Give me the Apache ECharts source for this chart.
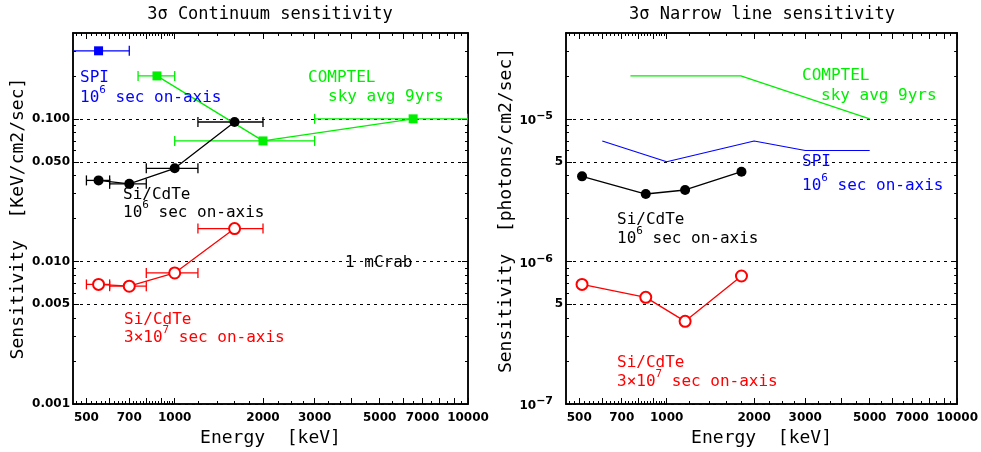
<!DOCTYPE html>
<html><head><meta charset="utf-8">
<script src="https://cdn.jsdelivr.net/npm/echarts@6/dist/echarts.min.js"></script>
<style>html,body{margin:0;padding:0;background:#fff}#c{width:981px;height:452px}</style>
</head><body><div id="c"></div>
<script>
// ---------------- axis ticks / labels ----------------
const energyTickLabels = [500, 700, 1000, 2000, 3000, 5000, 7000, 10000];
const energyMajorTicks = [500, 600, 700, 800, 900, 1000, 2000, 3000, 4000, 5000, 6000, 7000, 8000, 9000, 10000];
const energyMinorTicks = [460, 480, 520, 540, 560, 580, 620, 640, 660, 680, 720, 740, 760, 780, 820, 840, 860, 880, 920, 940, 960, 980,
  1200, 1400, 1600, 1800, 2250, 2500, 2750, 3333, 3667, 4500, 5500, 6500, 7500, 8500, 9500];
const contMajorTicks = [0.001, 0.005, 0.01, 0.05, 0.1];
const contMinorTicks = [0.002, 0.003, 0.004, 0.006, 0.007, 0.008, 0.009, 0.02, 0.03, 0.04, 0.06, 0.07, 0.08, 0.09, 0.2, 0.3];
const lineMajorTicks = [1e-7, 5e-7, 1e-6, 5e-6, 1e-5];
const lineMinorTicks = [2e-7, 3e-7, 4e-7, 6e-7, 7e-7, 8e-7, 9e-7, 2e-6, 3e-6, 4e-6, 6e-6, 7e-6, 8e-6, 9e-6, 2e-5, 3e-5];

// ---------------- continuum sensitivity data ----------------
const contSpiEnergy = [550];
const contSpiSens = [0.30];
const contSpiLow = [430];
const contSpiHigh = [700];

const contComptelEnergy = [870, 2000, 6500];
const contComptelSens = [0.20, 0.070, 0.100];
const contComptelLow = [750, 1000, 3000];
const contComptelHigh = [1000, 3000, 10000];

const contSiEnergy = [550, 700, 1000, 1600];
const contSiLow = [500, 600, 800, 1200];
const contSiHigh = [600, 800, 1200, 2000];
const contSi6Sens = [0.037, 0.035, 0.045, 0.095];
const contSi7Sens = [0.0069, 0.0067, 0.0083, 0.017];

// ---------------- narrow line sensitivity data ----------------
const lineComptelEnergy = [750, 1800, 5000];
const lineComptelSens = [2.0e-5, 2.0e-5, 1.0e-5];
const lineSpiEnergy = [600, 1000, 2000, 3000, 5000];
const lineSpiSens = [7.0e-6, 5.0e-6, 7.0e-6, 6.0e-6, 6.0e-6];
const lineSiEnergy = [511, 847, 1157, 1809];
const lineSi6Sens = [3.95e-6, 2.97e-6, 3.17e-6, 4.26e-6];
const lineSi7Sens = [6.9e-7, 5.6e-7, 3.8e-7, 7.9e-7];

// ---------------- styling ----------------
const BLUE = '#0000ff', GREEN = '#00ee00', RED = '#ff0000', BLACK = '#000000';
const MONO = '"DejaVu Sans Mono", monospace';
const SANS = '"DejaVu Sans", sans-serif';

const chart = echarts.init(document.getElementById('c'), null, {renderer: 'canvas'});

function zip(xs, ys) { return xs.map((x, i) => [x, ys[i]]); }

const tickLabelStyle = {color: BLACK, fontFamily: SANS, fontWeight: 'bold', fontSize: 12};
const axisLineStyle = {show: true, onZero: false, lineStyle: {color: BLACK, width: 1.5}};

function xAxes(g) {
  const base = {type: 'log', logBase: 10, gridIndex: g, min: 450, max: 10000,
    splitLine: {show: false}, axisLine: axisLineStyle};
  const major = {show: true, inside: true, length: 6, customValues: energyMajorTicks, lineStyle: {color: BLACK, width: 1}};
  const minor = {show: true, inside: true, length: 3, customValues: energyMinorTicks, lineStyle: {color: BLACK, width: 1}};
  return [
    Object.assign({}, base, {position: 'bottom', axisTick: major,
      axisLabel: Object.assign({show: true, customValues: energyTickLabels, margin: 8, formatter: v => String(Math.round(v))}, tickLabelStyle),
      name: 'Energy  [keV]', nameLocation: 'middle', nameGap: 24,
      nameTextStyle: {fontFamily: MONO, fontSize: 18, color: BLACK}}),
    Object.assign({}, base, {position: 'bottom', axisTick: minor, axisLabel: {show: false}}),
    Object.assign({}, base, {position: 'top', axisTick: major, axisLabel: {show: false}}),
    Object.assign({}, base, {position: 'top', axisTick: minor, axisLabel: {show: false}})
  ];
}

function yAxes(g, min, max, majors, minors, fmt, name, rich, nameGap, namePad) {
  const base = {type: 'log', logBase: 10, gridIndex: g, min: min, max: max,
    splitLine: {show: false}, axisLine: axisLineStyle};
  const major = {show: true, inside: true, length: 6, customValues: majors, lineStyle: {color: BLACK, width: 1}};
  const minor = {show: true, inside: true, length: 3, customValues: minors, lineStyle: {color: BLACK, width: 1}};
  return [
    Object.assign({}, base, {position: 'left', axisTick: major,
      splitLine: {show: true, customValues: majors, lineStyle: {color: BLACK, width: 1, type: [3, 4]}},
      axisLabel: Object.assign({show: true, customValues: majors, margin: 3, formatter: fmt, rich: rich}, tickLabelStyle),
      name: name, nameLocation: 'middle', nameGap: nameGap,
      nameTextStyle: {fontFamily: MONO, fontSize: 18, color: BLACK, padding: namePad}}),
    Object.assign({}, base, {position: 'left', axisTick: minor, axisLabel: {show: false}}),
    Object.assign({}, base, {position: 'right', axisTick: major, axisLabel: {show: false}}),
    Object.assign({}, base, {position: 'right', axisTick: minor, axisLabel: {show: false}})
  ];
}

const contFmt = v => Number(v).toFixed(3);
const lineFmt = v => {
  const e = Math.floor(Math.log10(v) + 1e-9);
  const m = Math.round(v / Math.pow(10, e));
  if (m === 1) return '{b|10}{s|\u2212' + Math.abs(e) + '}';
  return '{b|' + m + '}';
};
const lineRich = {
  b: {fontFamily: SANS, fontWeight: 'bold', fontSize: 12, color: BLACK, verticalAlign: 'bottom'},
  s: {fontFamily: SANS, fontWeight: 'bold', fontSize: 11, color: BLACK, verticalAlign: 'top', padding: [0, 10, 5, 0]}
};

function errSeries(xi, yi, low, high, sens, color) {
  return {
    type: 'custom', xAxisIndex: xi, yAxisIndex: yi, clip: true, silent: true, z: 2,
    data: low.map((l, i) => [l, high[i], sens[i]]),
    encode: {x: [0, 1], y: 2},
    renderItem: function (params, api) {
      const y = api.value(2);
      const a = api.coord([api.value(0), y]);
      const b = api.coord([api.value(1), y]);
      const st = {stroke: color, lineWidth: 1.3};
      return {type: 'group', children: [
        {type: 'line', shape: {x1: a[0], y1: a[1], x2: b[0], y2: b[1]}, style: st},
        {type: 'line', shape: {x1: a[0], y1: a[1] - 5, x2: a[0], y2: a[1] + 5}, style: st},
        {type: 'line', shape: {x1: b[0], y1: b[1] - 5, x2: b[0], y2: b[1] + 5}, style: st}
      ]};
    }
  };
}

function lineSeries(xi, yi, xs, ys, color, symbol, size, width) {
  return {
    type: 'line', xAxisIndex: xi, yAxisIndex: yi, data: zip(xs, ys),
    symbol: symbol, symbolSize: size, showSymbol: symbol !== 'none', z: 3, silent: true,
    itemStyle: symbol === 'emptyCircle' ? {color: color, borderColor: color, borderWidth: 1.3} : {color: color},
    lineStyle: {color: color, width: width}
  };
}

// annotation helper (rich text, superscripts)
const annStyles = {
  a: {fontFamily: MONO, fontSize: 16, verticalAlign: 'bottom'},
  s: {fontFamily: MONO, fontSize: 11, verticalAlign: 'top', padding: [0, 0, 10, 0]}
};
function ann(x, y, text, color) {
  const rich = {};
  Object.keys(annStyles).forEach(k => { rich[k] = Object.assign({color: color}, annStyles[k]); });
  const hasSup = text.indexOf('{s|') >= 0;
  return {type: 'text', x: x, y: hasSup ? y - 2 : y, silent: true, z: 50,
    style: {text: text, rich: rich, fill: color, fontFamily: MONO, fontSize: 16,
      textAlign: 'left', textVerticalAlign: 'middle'}};
}
function title(x, y, text) {
  return {type: 'text', x: x, y: y, silent: true,
    style: {text: text, fill: BLACK, fontFamily: MONO, fontSize: 17, textAlign: 'center', textVerticalAlign: 'middle'}};
}

const option = {
  animation: false,
  backgroundColor: '#ffffff',
  grid: [
    {left: 73, top: 33, width: 395, height: 371},
    {left: 566, top: 33, width: 394, height: 371}
  ],
  xAxis: [].concat(xAxes(0), xAxes(1)),
  yAxis: [].concat(
    yAxes(0, 0.001, 0.4, contMajorTicks, contMinorTicks, contFmt, 'Sensitivity  [KeV/cm2/sec]', null, 46, 0),
    yAxes(1, 1e-7, 4e-5, lineMajorTicks, lineMinorTicks, lineFmt, 'Sensitivity  [photons/cm2/sec]', lineRich, 45, [0, 0, 0, 16])
  ),
  series: [
    // continuum (grid 0)
    errSeries(0, 0, contSpiLow, contSpiHigh, contSpiSens, BLUE),
    lineSeries(0, 0, contSpiEnergy, contSpiSens, BLUE, 'rect', 9, 1.2),
    errSeries(0, 0, contComptelLow, contComptelHigh, contComptelSens, GREEN),
    lineSeries(0, 0, contComptelEnergy, contComptelSens, GREEN, 'rect', 9, 1.3),
    errSeries(0, 0, contSiLow, contSiHigh, contSi6Sens, BLACK),
    lineSeries(0, 0, contSiEnergy, contSi6Sens, BLACK, 'circle', 10, 1.3),
    errSeries(0, 0, contSiLow, contSiHigh, contSi7Sens, RED),
    lineSeries(0, 0, contSiEnergy, contSi7Sens, RED, 'emptyCircle', 11, 1.3),
    // narrow line (grid 1)
    lineSeries(4, 4, lineComptelEnergy, lineComptelSens, GREEN, 'none', 0, 1.2),
    lineSeries(4, 4, lineSpiEnergy, lineSpiSens, BLUE, 'none', 0, 1.1),
    lineSeries(4, 4, lineSiEnergy, lineSi6Sens, BLACK, 'circle', 10, 1.3),
    lineSeries(4, 4, lineSiEnergy, lineSi7Sens, RED, 'emptyCircle', 11, 1.3)
  ],
  graphic: [
    title(270, 15, '3\u03c3 Continuum sensitivity'),
    title(762, 15, '3\u03c3 Narrow line sensitivity'),
    ann(80, 78, '{a|SPI}', BLUE),
    ann(80, 97, '{a|10}{s|6}{a| sec on-axis}', BLUE),
    ann(308, 78, '{a|COMPTEL}', GREEN),
    ann(328, 97, '{a|sky avg 9yrs}', GREEN),
    ann(123, 195, '{a|Si/CdTe}', BLACK),
    ann(123, 212, '{a|10}{s|6}{a| sec on-axis}', BLACK),
    ann(345, 263, '{a|1 mCrab}', BLACK),
    ann(124, 320, '{a|Si/CdTe}', RED),
    ann(124, 337, '{a|3\u00d710}{s|7}{a| sec on-axis}', RED),
    ann(802, 76, '{a|COMPTEL}', GREEN),
    ann(821, 96, '{a|sky avg 9yrs}', GREEN),
    ann(802, 162, '{a|SPI}', BLUE),
    ann(802, 185, '{a|10}{s|6}{a| sec on-axis}', BLUE),
    ann(617, 220, '{a|Si/CdTe}', BLACK),
    ann(617, 238, '{a|10}{s|6}{a| sec on-axis}', BLACK),
    ann(617, 363, '{a|Si/CdTe}', RED),
    ann(617, 381, '{a|3\u00d710}{s|7}{a| sec on-axis}', RED)
  ]
};
chart.setOption(option);
</script>
</body></html>
